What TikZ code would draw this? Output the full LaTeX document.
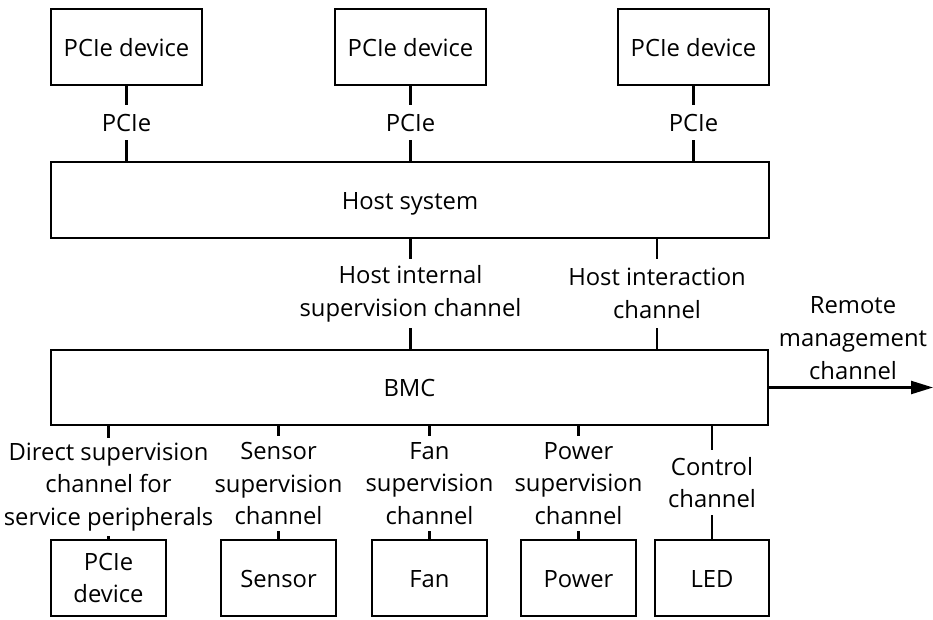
\documentclass[tikz,border=0pt]{standalone}
\usepackage{fontspec}
\setmainfont{Open Sans}
\usetikzlibrary{arrows.meta}
\begin{document}
\begin{tikzpicture}[x=1pt,y=-1pt,
  every node/.style={font=\fontsize{23.8}{32.8}\selectfont},
  box/.style={draw,line width=2.3pt,inner sep=0pt,align=center},
  sbox/.style={box,text height=18pt,text depth=0pt},
  lbl/.style={inner sep=0pt,align=center},
  conn/.style={line width=2.3pt}]
\useasboundingbox (0,0) rectangle (933,619);
% top devices
\node[sbox,minimum width=151pt,minimum height=76pt] (t1) at (126.5,47) {PCIe device};
\node[sbox,minimum width=151pt,minimum height=76pt] (t2) at (410.5,47) {PCIe device};
\node[sbox,minimum width=151pt,minimum height=76pt] (t3) at (693.5,47) {PCIe device};
% host and BMC
\node[sbox,minimum width=718pt,minimum height=76pt] (host) at (410,200) {Host system};
\node[sbox,minimum width=717pt,minimum height=75pt] (bmc) at (409.5,387.5) {BMC};
% PCIe labels
\node[lbl,minimum height=35pt] (p1) at (126.5,122.5) {PCIe};
\node[lbl,minimum height=35pt] (p2) at (410.5,122.5) {PCIe};
\node[lbl,minimum height=35pt] (p3) at (693.5,122.5) {PCIe};
% host-BMC labels
\node[lbl,minimum height=69pt] (hi) at (410.5,293.5) {Host internal\\supervision channel};
\node[lbl,minimum height=69pt] (hx) at (657,293.5) {Host interaction\\channel};
\node[lbl] (rm) at (853,338) {Remote\\management\\channel};
\coordinate (rmend) at (933,387.5);
% bottom boxes
\node[box,minimum width=115pt,minimum height=76pt] (b1) at (108.5,578) {PCIe\\device};
\node[sbox,minimum width=115pt,minimum height=76pt] (b2) at (278.5,578) {Sensor};
\node[sbox,minimum width=115pt,minimum height=76pt] (b3) at (429.5,578) {Fan};
\node[sbox,minimum width=115pt,minimum height=76pt] (b4) at (578.5,578) {Power};
\node[sbox,minimum width=114pt,minimum height=76pt] (b5) at (712,578) {LED};
% bottom labels
\node[lbl,minimum height=98pt] (l1) at (108.5,487) {Direct supervision\\channel for\\service peripherals};
\node[lbl,minimum height=95pt] (l2) at (278.5,483.5) {Sensor\\supervision\\channel};
\node[lbl,minimum height=95pt] (l3) at (429.5,483.5) {Fan\\supervision\\channel};
\node[lbl,minimum height=95pt] (l4) at (578.5,483.5) {Power\\supervision\\channel};
\node[lbl,minimum height=65pt] (l5) at (712,482.5) {Control\\channel};
% connectors top
\foreach \t/\p in {t1/p1,t2/p2,t3/p3}{
  \draw[conn] (\t.south) -- (\p.north);
  \draw[conn] (\p.south) -- (\p.south |- host.north);
}
% host to BMC
\foreach \p in {hi,hx}{
  \draw[conn] (host.south -| \p.north) -- (\p.north);
  \draw[conn] (\p.south) -- (\p.south |- bmc.north);
}
% BMC to bottom
\foreach \p/\b in {l1/b1,l2/b2,l3/b3,l4/b4,l5/b5}{
  \draw[conn] (bmc.south -| \p.north) -- (\p.north);
  \draw[conn] (\p.south) -- (\b.north);
}
% remote arrow
\draw[conn,-{Triangle[length=22pt,width=13pt]}] (bmc.east) -- (rmend);
\end{tikzpicture}
\end{document}
